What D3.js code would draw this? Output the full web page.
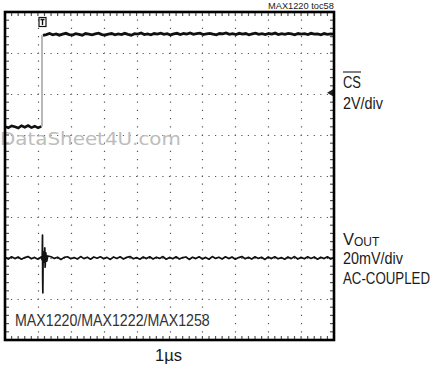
<!DOCTYPE html>
<html>
<head>
<meta charset="utf-8">
<script src="https://cdn.jsdelivr.net/npm/d3@7"></script>
<style>
  html, body { margin: 0; padding: 0; background: #fff; }
  svg { display: block; }
  .lbl { font-family: "Liberation Sans Narrow", "Arial Narrow", "Liberation Sans", sans-serif; fill: #1a1a1a; }
</style>
</head>
<body>
<svg id="scope" width="433" height="375"></svg>
<script>
// ---- Scope settings ----
const timeDivs = 10;          // horizontal divisions, 1 µs/div
const voltDivs = 8;           // vertical divisions
const csVoltsPerDiv = 2;      // CS channel, V/div
const csOffsetDiv = 1.2;      // CS ground position above center (div)
const voutMvPerDiv = 20;      // VOUT channel, mV/div
const voutOffsetDiv = -2;     // VOUT zero position (div)
const triggerTime = 1.125;    // µs from left edge
const triggerLevel = 1.66;    // V on the CS channel

// ---- CS trace: low level before the edge (V) ----
const csLowValues = [0.02, -0.05, 0.04, 0.0, -0.06, 0.05, -0.02, 0.06, -0.04, 0.03, -0.05, 0.02];

// ---- CS trace: high level after the edge (V) ----
const csHighValues = [
  4.46,4.50,4.55,4.49,4.53,4.47,4.52,4.56,4.50,4.48,
  4.54,4.51,4.47,4.55,4.52,4.49,4.53,4.57,4.50,4.48,
  4.52,4.55,4.49,4.53,4.50,4.56,4.51,4.47,4.54,4.52,
  4.58,4.50,4.53,4.49,4.55,4.52,4.57,4.51,4.54,4.48,
  4.53,4.56,4.50,4.55,4.52,4.58,4.51,4.54,4.57,4.50,
  4.53,4.56,4.52,4.49,4.55,4.53,4.58,4.51,4.54,4.50,
  4.56,4.52,4.55,4.49,4.53,4.57,4.51,4.54,4.50,4.55,
  4.52,4.57,4.50,4.54,4.51,4.56,4.53,4.49,4.55,4.52,
  4.54,4.50,4.56,4.52,4.53,4.49,4.55,4.51,4.53,4.52
];

// ---- VOUT trace: baseline noise (mV), sampled every 0.1 µs ----
const voutValues = [
  0.4,-0.5,0.6,-0.3,0.5,-0.6,0.2,0.7,-0.4,0.3,
  -0.6,0.5,0.1,-0.5,0.6,-0.2,0.4,-0.7,0.3,0.6,
  -0.4,0.2,-0.5,0.7,-0.3,0.4,-0.6,0.5,-0.1,0.6,
  -0.4,0.3,-0.7,0.5,-0.2,0.6,-0.5,0.3,0.7,-0.4,
  0.2,-0.6,0.5,-0.3,0.6,-0.5,0.4,-0.2,0.7,-0.6,
  0.3,-0.4,0.6,-0.5,0.2,0.5,-0.7,0.4,-0.3,0.6,
  -0.5,0.3,-0.6,0.7,-0.2,0.4,-0.5,0.6,-0.3,0.5,
  -0.6,0.2,0.7,-0.4,0.3,-0.5,0.6,-0.2,0.4,-0.7,
  0.5,-0.3,0.6,-0.4,0.2,-0.6,0.5,-0.3,0.7,-0.5,
  0.3,-0.4,0.6,-0.2,0.5,-0.6,0.4,-0.3,0.6,-0.5,
  0.2
];

// ---- VOUT glitch when CS rises: [time µs, mV] ----
const voutGlitch = [
  [1.10, 0.5], [1.13, -1.0], [1.14, 11.2], [1.145, -10.7], [1.15, -17.0],
  [1.16, 3.0], [1.19, -2.0], [1.21, 4.9], [1.22, -4.5], [1.24, 2.5],
  [1.27, -1.5], [1.30, 1.0]
];

// ---- Labels ----
const chartId = "MAX1220 toc58";
const partLabel = "MAX1220/MAX1222/MAX1258";
const timeLabel = "1\u00b5s";
const csLabels = ["CS", "2V/div"];
const voutLabels = ["V", "OUT", "20mV/div", "AC-COUPLED"];
const watermark = "DataSheet4U.com";

// ---- Layout ----
const svg = d3.select("#scope");
const box = { left: 5, right: 334, top: 12, bottom: 340 };

const x = d3.scaleLinear().domain([0, timeDivs]).range([box.left, box.right]);
const yDiv = d3.scaleLinear().domain([-voltDivs / 2, voltDivs / 2]).range([box.bottom, box.top]);
const yCS = v => yDiv(v / csVoltsPerDiv + csOffsetDiv);
const yVout = mv => yDiv(mv / voutMvPerDiv + voutOffsetDiv);

svg.append("clipPath").attr("id", "plotClip")
  .append("rect")
  .attr("x", box.left).attr("y", box.top)
  .attr("width", box.right - box.left).attr("height", box.bottom - box.top);

// ---- Graticule ----
const grid = svg.append("g").attr("stroke", "#555").attr("stroke-width", 1.2);
const minorX = (box.right - box.left) / timeDivs / 5;
const minorY = (box.bottom - box.top) / voltDivs / 5;

grid.selectAll("line.h").data(d3.range(-voltDivs / 2 + 1, voltDivs / 2)).join("line")
  .attr("x1", box.left).attr("x2", box.right)
  .attr("y1", d => Math.round(yDiv(d)) + 0.5).attr("y2", d => Math.round(yDiv(d)) + 0.5)
  .attr("stroke-dasharray", `1.2 ${minorX - 1.2}`)
  .attr("stroke-dashoffset", -minorX + 0.6);

grid.selectAll("line.v").data(d3.range(1, timeDivs)).join("line")
  .attr("y1", box.top).attr("y2", box.bottom)
  .attr("x1", d => Math.round(x(d)) + 0.5).attr("x2", d => Math.round(x(d)) + 0.5)
  .attr("stroke-dasharray", `1.2 ${minorY - 1.2}`)
  .attr("stroke-dashoffset", -minorY + 0.6);

// minor ticks along the frame edges
const tickT = d3.range(1, timeDivs * 5);
const tickV = d3.range(1, voltDivs * 5);
grid.selectAll("line.tb").data(tickT).join("line")
  .attr("x1", d => x(d / 5)).attr("x2", d => x(d / 5))
  .attr("y1", box.bottom - 4).attr("y2", box.bottom);
grid.selectAll("line.tt").data(tickT).join("line")
  .attr("x1", d => x(d / 5)).attr("x2", d => x(d / 5))
  .attr("y1", box.top).attr("y2", box.top + 4);
grid.selectAll("line.tl").data(tickV).join("line")
  .attr("y1", d => yDiv(d / 5 - voltDivs / 2)).attr("y2", d => yDiv(d / 5 - voltDivs / 2))
  .attr("x1", box.left).attr("x2", box.left + 4);
grid.selectAll("line.tr").data(tickV).join("line")
  .attr("y1", d => yDiv(d / 5 - voltDivs / 2)).attr("y2", d => yDiv(d / 5 - voltDivs / 2))
  .attr("x1", box.right - 4).attr("x2", box.right);

// Condensed label: natural-width text squeezed horizontally to a target width.
function narrowText(parent, str, px, py, size, width, opts = {}) {
  const g = parent.append("g");
  const t = g.append("text").attr("class", "lbl").style("font-size", size + "px").text(str);
  if (opts.family) t.style("font-family", opts.family);
  if (opts.fill) t.style("fill", opts.fill);
  const w = t.node().getComputedTextLength();
  const k = width / w;
  const x0 = opts.anchor === "end" ? px - width : px;
  g.attr("transform", `translate(${x0},${py}) scale(${k},1)`);
  return t;
}

// ---- Watermark ----
narrowText(svg, watermark, 0, 145, 18, 181,
  { family: "'DejaVu Sans', sans-serif", fill: "#bdbdbd" });

// ---- Traces ----
const traces = svg.append("g").attr("clip-path", "url(#plotClip)");
const line = d3.line().x(d => x(d[0])).y(d => d[1]);

// CS low level
const csLow = csLowValues.map((v, i) => [i * (triggerTime - 0.02) / (csLowValues.length - 1), yCS(v)]);
traces.append("path").datum(csLow).attr("d", line)
  .attr("fill", "none").attr("stroke", "#111").attr("stroke-width", 2.6);

// CS rising edge
traces.append("path")
  .datum([[triggerTime, yCS(csLowValues[csLowValues.length - 1])], [triggerTime, yCS(csHighValues[0])]])
  .attr("d", line).attr("fill", "none").attr("stroke", "#8a8a8a").attr("stroke-width", 1.2);

// CS high level
const csT0 = triggerTime + 0.03;
const csHigh = csHighValues.map((v, i) => [csT0 + i * (timeDivs - csT0) / (csHighValues.length - 1), yCS(v)]);
traces.append("path").datum(csHigh).attr("d", line)
  .attr("fill", "none").attr("stroke", "#111").attr("stroke-width", 2.8);

// VOUT
const voutBase = voutValues.map((v, i) => [i * timeDivs / (voutValues.length - 1), v])
  .filter(d => d[0] < 1.05 || d[0] > 1.35);
const voutAll = voutBase.concat(voutGlitch).sort((a, b) => a[0] - b[0])
  .map(d => [d[0], yVout(d[1])]);
traces.append("path").datum(voutAll).attr("d", line)
  .attr("fill", "none").attr("stroke", "#111").attr("stroke-width", 1.7)
  .attr("stroke-linejoin", "round");

// ---- Trigger position marker (top) ----
const tx = Math.round(x(triggerTime)) + 0.5;
const trig = svg.append("g").attr("stroke", "#111").attr("fill", "none");
trig.append("rect").attr("x", tx - 3.5).attr("y", 17.5).attr("width", 7).attr("height", 9)
  .attr("fill", "#fff").attr("stroke-width", 1.2);
trig.append("path").attr("d", `M${tx - 2},19.5H${tx + 2}M${tx},19.5V25`).attr("stroke-width", 1.4);

// ---- Trigger level marker (right edge) ----
const ty = yCS(triggerLevel);
svg.append("path")
  .attr("d", `M${box.right - 7},${ty}L${box.right - 1},${ty - 3.5}L${box.right - 1},${ty + 3.5}Z`)
  .attr("fill", "#222");

// ---- Frame ----
svg.append("rect")
  .attr("x", box.left).attr("y", box.top)
  .attr("width", box.right - box.left).attr("height", box.bottom - box.top)
  .attr("fill", "none").attr("stroke", "#000").attr("stroke-width", 2.6);

// ---- Text ----
narrowText(svg, chartId, box.right, 8.5, 9.5, 66, { anchor: "end" });

const lx = 343;
narrowText(svg, csLabels[0], lx, 88, 16.5, 18);
svg.append("line").attr("x1", lx).attr("x2", lx + 18).attr("y1", 72).attr("y2", 72)
  .attr("stroke", "#1a1a1a").attr("stroke-width", 1.1);
narrowText(svg, csLabels[1], lx, 109, 16.5, 40);

const vt = svg.append("text").attr("class", "lbl").attr("x", lx).attr("y", 245)
  .style("font-size", "16.5px");
vt.append("tspan").text(voutLabels[0]);
vt.append("tspan").attr("dy", 1).style("font-size", "12px").text(voutLabels[1]);
narrowText(svg, voutLabels[2], lx, 264, 16.5, 60);
narrowText(svg, voutLabels[3], lx, 284, 16.5, 87);

narrowText(svg, partLabel, 15, 326, 16.5, 195, { fill: "#333" });

narrowText(svg, timeLabel, 155, 361, 16, 27);
</script>
</body>
</html>
